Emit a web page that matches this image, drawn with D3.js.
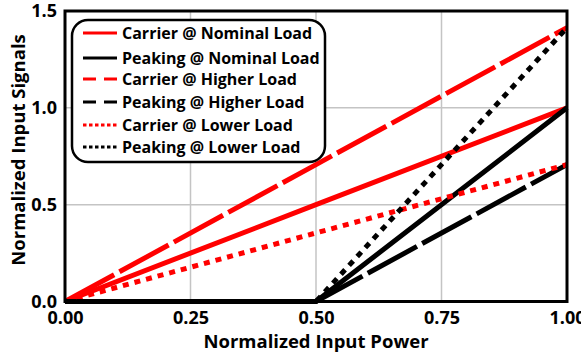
<!DOCTYPE html>
<html>
<head>
<meta charset="utf-8">
<script src="https://cdn.jsdelivr.net/npm/d3@7"></script>
<style>
  html, body { margin: 0; padding: 0; background: #fff; }
  svg { display: block; font-family: "Open Sans", Lato, sans-serif; font-weight: bold; }
</style>
</head>
<body>
<svg id="chart" width="581" height="358"></svg>
<script>
// Input power samples (normalized)
const inputPower = [0, 0.5, 1.0];

// Normalized drive signals for each amplifier and load condition
const carrierNominal = [0, 0.5, 1.0];
const peakingNominal = [0, 0, 1.0];
const carrierHigher  = [0, 0.707, 1.414];
const peakingHigher  = [0, 0, 0.707];
const carrierLower   = [0, 0.354, 0.707];
const peakingLower   = [0, 0, 1.414];

const seriesNames = [
  "Carrier @ Nominal Load",
  "Peaking @ Nominal Load",
  "Carrier @ Higher Load",
  "Peaking @ Higher Load",
  "Carrier @ Lower Load",
  "Peaking @ Lower Load"
];
const seriesValues = [carrierNominal, peakingNominal, carrierHigher, peakingHigher, carrierLower, peakingLower];

const xTicks = [0, 0.25, 0.5, 0.75, 1.0];
const yTicks = [0, 0.5, 1.0, 1.5];

// Styling per series
const colors = ["#ff0000", "#000000", "#ff0000", "#000000", "#ff0000", "#000000"];
const dashes = [null, null, "56,6", "56,6", "6,6", "6,6"];
const legendDashes = [null, null, "13,8", "13,8", "3.5,2.5", "3.5,2.5"];

const svg = d3.select("#chart");
const margin = { left: 65, right: 14, top: 11, bottom: 56.5 };
const W = 581, H = 358;

const x = d3.scaleLinear().domain([0, 1]).range([margin.left, W - margin.right]);
const y = d3.scaleLinear().domain([0, 1.5]).range([H - margin.bottom, margin.top]);

// Gridlines
const grid = svg.append("g").attr("stroke", "#c4c4c4").attr("stroke-width", 1.5);
grid.selectAll("line.vx").data(xTicks.slice(1, -1)).join("line")
  .attr("x1", d => x(d)).attr("x2", d => x(d))
  .attr("y1", y(0)).attr("y2", y(1.5));
grid.selectAll("line.hy").data(yTicks.slice(1, -1)).join("line")
  .attr("x1", x(0)).attr("x2", x(1))
  .attr("y1", d => y(d)).attr("y2", d => y(d));

// Series lines
const line = d3.line().x((d, i) => x(inputPower[i])).y(d => y(d));
svg.append("g").selectAll("path").data(seriesValues).join("path")
  .attr("d", d => line(d))
  .attr("fill", "none")
  .attr("stroke", (d, i) => colors[i])
  .attr("stroke-width", 5)
  .attr("stroke-dasharray", (d, i) => dashes[i]);

// Plot frame
svg.append("rect")
  .attr("x", x(0)).attr("y", y(1.5))
  .attr("width", x(1) - x(0)).attr("height", y(0) - y(1.5))
  .attr("fill", "none").attr("stroke", "#000").attr("stroke-width", 3);

// Axes
const xAxis = svg.append("g")
  .attr("transform", `translate(0,${y(0)})`)
  .call(d3.axisBottom(x).tickValues(xTicks).tickFormat(d3.format(".2f")).tickSize(0).tickPadding(10));
const yAxis = svg.append("g")
  .attr("transform", `translate(${x(0)},0)`)
  .call(d3.axisLeft(y).tickValues(yTicks).tickFormat(d3.format(".1f")).tickSize(0).tickPadding(8));
[xAxis, yAxis].forEach(g => {
  g.select(".domain").remove();
  g.selectAll("text").attr("font-family", "'Open Sans', sans-serif").attr("font-weight", "bold")
    .attr("font-size", 18).attr("fill", "#000");
});

// Axis titles
svg.append("text")
  .attr("x", 316).attr("y", 348)
  .attr("text-anchor", "middle").attr("font-size", 18.5)
  .text("Normalized Input Power");
svg.append("text")
  .attr("transform", "translate(25,150) rotate(-90)")
  .attr("text-anchor", "middle").attr("font-size", 18.5)
  .text("Normalized Input Signals");

// Legend
const legend = svg.append("g");
legend.append("rect")
  .attr("x", 72).attr("y", 20).attr("width", 253).attr("height", 142)
  .attr("rx", 16).attr("ry", 16)
  .attr("fill", "#fff").attr("stroke", "#000").attr("stroke-width", 2.5);
const rowY = [33, 58, 79, 102, 125, 147];
const rows = legend.selectAll("g.row").data(seriesNames).join("g")
  .attr("transform", (d, i) => `translate(0,${rowY[i]})`);
rows.append("line")
  .attr("x1", 83).attr("x2", 117).attr("y1", 0).attr("y2", 0)
  .attr("stroke", (d, i) => colors[i]).attr("stroke-width", 3)
  .attr("stroke-dasharray", (d, i) => legendDashes[i]);
rows.append("text")
  .attr("x", 122).attr("y", 0).attr("dy", "0.36em")
  .attr("font-size", 16)
  .text(d => d);
</script>
</body>
</html>
